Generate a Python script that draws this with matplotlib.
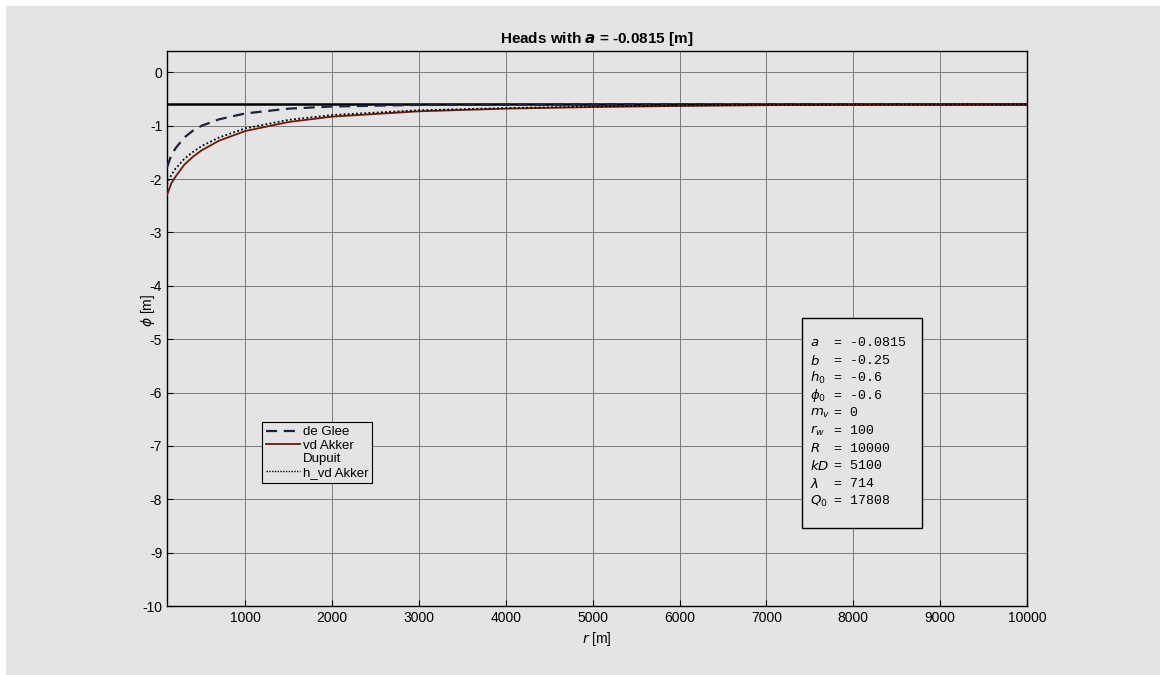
import matplotlib
matplotlib.use("Agg")
import matplotlib.pyplot as plt
from matplotlib.lines import Line2D
from matplotlib.patches import Rectangle

# ---- data ----
r = [100, 150, 200, 300, 400, 500, 700, 1000, 1500, 2000, 3000, 4000, 5000, 6000, 7000, 8000, 10000]
de_glee = [-1.78, -1.55, -1.42, -1.22, -1.09, -1.00, -0.88, -0.77, -0.68, -0.64, -0.61, -0.605, -0.60, -0.60, -0.60, -0.60, -0.60]
vd_akker = [-2.30, -2.08, -1.95, -1.73, -1.58, -1.46, -1.28, -1.10, -0.93, -0.83, -0.73, -0.68, -0.65, -0.63, -0.615, -0.61, -0.60]
h_vd_akker = [-2.10, -1.92, -1.80, -1.62, -1.49, -1.38, -1.22, -1.05, -0.89, -0.80, -0.71, -0.67, -0.64, -0.62, -0.61, -0.605, -0.60]
phi0_r = [100, 10000]
phi0_line = [-0.6, -0.6]

xticks = [1000, 2000, 3000, 4000, 5000, 6000, 7000, 8000, 9000, 10000]
yticks = [0, -1, -2, -3, -4, -5, -6, -7, -8, -9, -10]

param_names = [r'$a$', r'$b$', r'$h_0$', r'$\phi_0$', r'$m_v$', r'$r_w$', r'$R$', r'$kD$', r'$\lambda$', r'$Q_0$']
param_values = ['-0.0815', '-0.25', '-0.6', '-0.6', '0', '100', '10000', '5100', '714', '17808']

GRAY = '#e4e4e4'
plt.rcParams['font.family'] = ['Liberation Sans', 'DejaVu Sans']
plt.rcParams['mathtext.fontset'] = 'dejavusans'

fig = plt.figure(figsize=(11.6, 6.75), dpi=100)
fig.patch.set_facecolor('white')
fig.patches.append(Rectangle((6 / 1160, 0), 1 - 6 / 1160, 1 - 6 / 675, transform=fig.transFigure,
                             facecolor=GRAY, edgecolor='none', zorder=-10))

ax = fig.add_axes([167 / 1160, 1 - 606 / 675, (1027 - 167) / 1160, (606 - 51) / 675])
ax.set_facecolor(GRAY)

ax.plot(phi0_r, phi0_line, color='black', lw=1.8, zorder=3)
ax.plot(r, de_glee, color='#1a2438', lw=1.6, ls=(0, (5, 3)), zorder=4)
ax.plot(r, vd_akker, color='#6a1a08', lw=1.3, zorder=4)
ax.plot(r, h_vd_akker, color='black', lw=1.3, ls=(0, (1, 1.3)), zorder=4)

ax.set_xlim(100, 10000)
ax.set_ylim(-10, 0.4)
ax.set_xticks(xticks)
ax.set_yticks(yticks)
ax.set_xticklabels([str(v) for v in xticks], fontsize=10)
ax.set_yticklabels([str(v) for v in yticks], fontsize=10)
ax.tick_params(direction='in', length=4, width=0.8)
ax.grid(True, color='#7a7a7a', lw=0.7)
ax.set_axisbelow(True)
for s in ax.spines.values():
    s.set_color('black')
    s.set_linewidth(1.0)

ax.set_xlabel(r'$r$ [m]', fontsize=10, labelpad=4)
ax.set_ylabel(r'$\phi$ [m]', fontsize=10)
ax.yaxis.set_label_coords(-0.012, 0.532)
ax.set_title(r'Heads with $\mathbfit{a}$ = -0.0815 [m]', fontsize=11, fontweight='bold', pad=6)

handles = [
    Line2D([], [], color='#1a2438', lw=1.6, ls=(0, (5, 3))),
    Line2D([], [], color='#6a1a08', lw=1.3),
    Line2D([], [], color='none', lw=1.3),
    Line2D([], [], color='black', lw=1.0, ls=(0, (1, 1))),
]
labels = ['de Glee', 'vd Akker', 'Dupuit', 'h_vd Akker']
leg = ax.legend(handles, labels, loc='upper left',
                bbox_to_anchor=((262 - 167) / 860, (606 - 422) / 555),
                fontsize=9.5, frameon=True, fancybox=False, edgecolor='black',
                facecolor=GRAY, framealpha=1, handlelength=2.6, handletextpad=0.2,
                borderpad=0.3, labelspacing=0.1, borderaxespad=0)
leg.get_frame().set_linewidth(0.8)

# parameter box
bx0, bx1, by0, by1 = 802, 922, 318, 528
fig.patches.append(Rectangle((bx0 / 1160, 1 - by1 / 675), (bx1 - bx0) / 1160, (by1 - by0) / 675,
                             transform=fig.transFigure, facecolor=GRAY, edgecolor='black',
                             lw=1.0, zorder=5))
y0 = 343
dy = 17.6
for i, (n, v) in enumerate(zip(param_names, param_values)):
    yy = 1 - (y0 + i * dy) / 675
    fig.text(810 / 1160, yy, n, fontsize=9.5, va='center', ha='left', zorder=6,
             family='DejaVu Sans')
    fig.text(834 / 1160, yy, '= ' + v, fontsize=9.5, va='center', ha='left', zorder=6,
             family='Liberation Mono')

fig.savefig('out.png', dpi=100, facecolor=fig.get_facecolor())
